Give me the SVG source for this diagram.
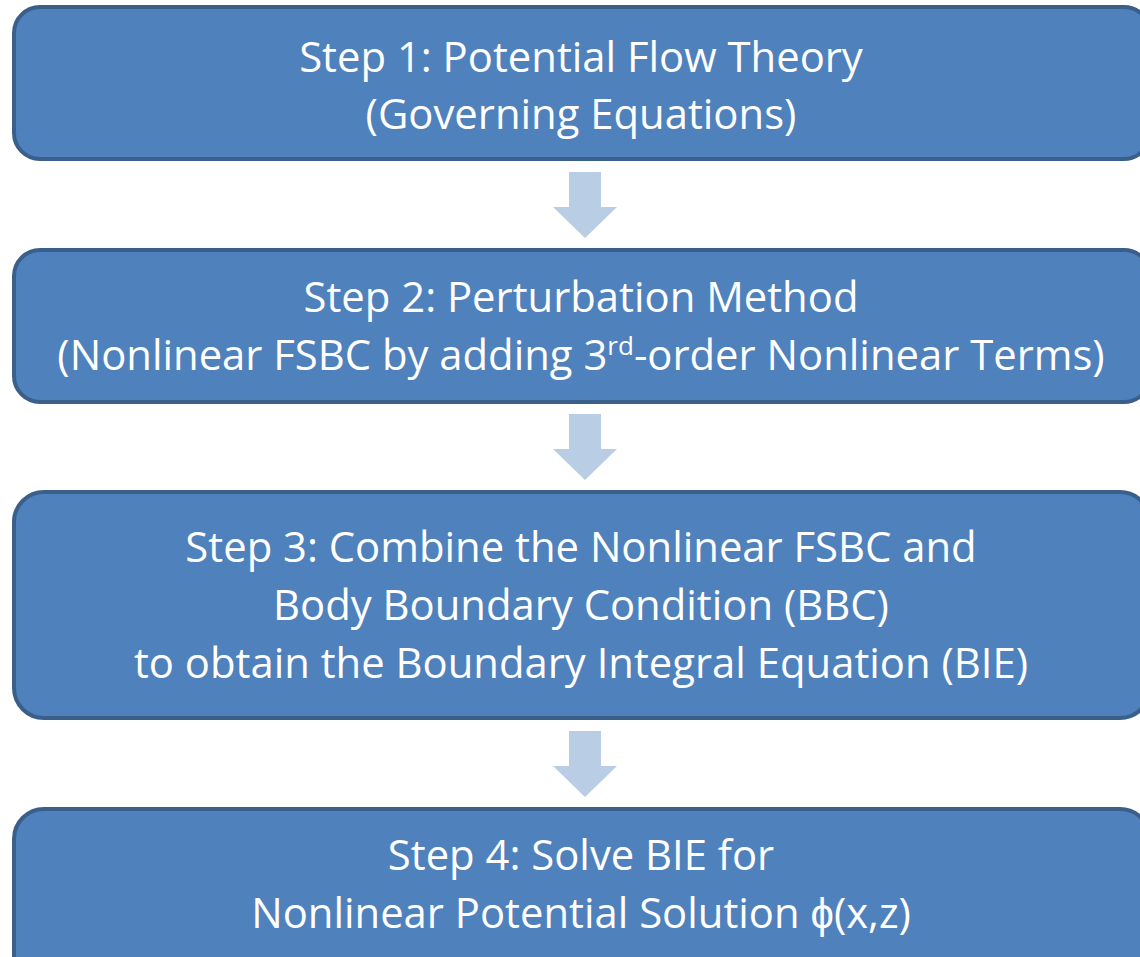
<svg xmlns="http://www.w3.org/2000/svg" width="1140" height="957" viewBox="0 0 1140 957">
<style>
.box{fill:#4f81bd;stroke:#3a5f8b;stroke-width:4}
.t{font-family:"Open Sans","Liberation Sans",sans-serif;font-size:41.8px;fill:#ffffff;text-anchor:middle}
.arr{fill:#b9cde5}
</style>
<rect width="1140" height="957" fill="#ffffff"/>
<g id="connectors">
<polygon class="arr" points="569,172 601,172 601,207 617,207 585,238 553,207 569,207"/>
<polygon class="arr" points="569,414 601,414 601,449 617,449 585,480 553,449 569,449"/>
<polygon class="arr" points="569,731 601,731 601,766 617,766 585,797 553,766 569,766"/>
</g>
<g id="node1">
<rect class="box" x="14" y="7" width="1136" height="152" rx="26"/>
<text class="t" x="581" y="72">Step 1: Potential Flow Theory</text>
<text class="t" x="581" y="129">(Governing Equations)</text>
</g>
<g id="node2">
<rect class="box" x="14" y="250" width="1136" height="152" rx="26"/>
<text class="t" x="581" y="312">Step 2: Perturbation Method</text>
<text class="t" x="581" y="370">(Nonlinear FSBC by adding 3<tspan font-size="26" dy="-15">rd</tspan><tspan dy="15">-order Nonlinear Terms)</tspan></text>
</g>
<g id="node3">
<rect class="box" x="14" y="492" width="1136" height="226" rx="30"/>
<text class="t" x="581" y="562">Step 3: Combine the Nonlinear FSBC and</text>
<text class="t" x="581" y="620">Body Boundary Condition (BBC)</text>
<text class="t" x="581" y="678">to obtain the Boundary Integral Equation (BIE)</text>
</g>
<g id="node4">
<rect class="box" x="14" y="809" width="1136" height="200" rx="30"/>
<text class="t" x="581" y="870">Step 4: Solve BIE for</text>
<text class="t" x="581" y="928">Nonlinear Potential Solution ϕ(x,z)</text>
</g>
</svg>
